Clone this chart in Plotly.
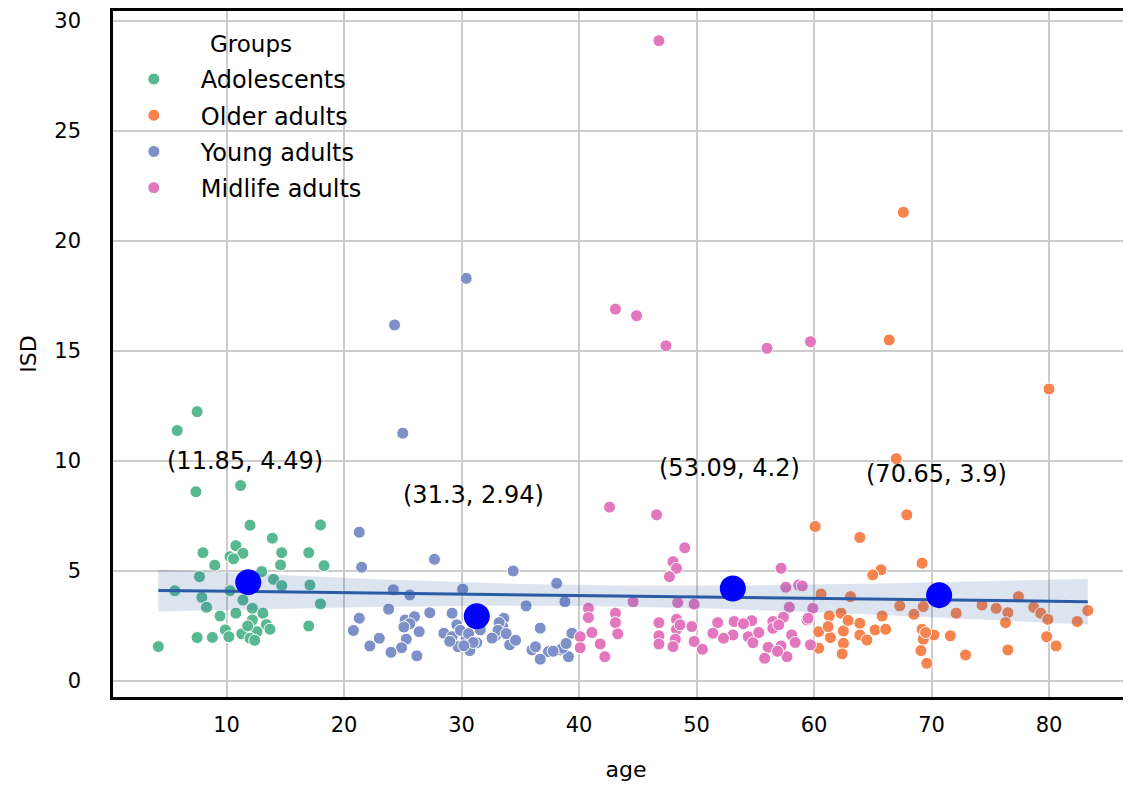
import numpy as np
import plotly.graph_objects as go

# ---------------- data ----------------
groups = ["Adolescents", "Older adults", "Young adults", "Midlife adults"]
colors = {"Adolescents": "#57b891", "Older adults": "#f7834f",
          "Young adults": "#7d90c8", "Midlife adults": "#e377be"}

adol_age = [7.5, 5.8, 7.4, 11.2, 12.0, 18.0, 13.9, 8.0, 10.8, 10.3, 11.4, 10.6,
            14.7, 17.0, 9.0, 14.6, 18.3, 13.0, 7.7, 14.0, 5.6, 17.1, 14.7, 10.3,
            7.9, 11.4, 8.3, 18.0, 12.2, 13.1, 9.45, 10.8, 12.2, 13.4, 9.9, 11.3,
            12.6, 17.0, 7.5, 8.8, 10.2, 12.0, 4.2, 12.4, 11.8, 13.7]
adol_isd = [12.24, 11.38, 8.6, 8.88, 7.08, 7.09, 6.49, 5.83, 6.15, 5.65, 5.8, 5.55,
            5.83, 5.83, 5.26, 5.27, 5.24, 4.97, 4.74, 4.62, 4.1, 4.36, 4.33, 4.1,
            3.8, 3.68, 3.35, 3.5, 3.3, 3.08, 2.95, 3.08, 2.77, 2.56, 2.32, 2.14,
            2.24, 2.5, 1.97, 1.98, 2.01, 1.94, 1.56, 1.85, 2.5, 2.35]

young_age = [30.4, 24.3, 25.0, 21.3, 27.7, 21.5, 34.4, 38.1, 24.2, 25.6, 30.1, 38.8,
             35.5, 23.8, 27.3, 29.2, 21.3, 25.2, 26.0, 33.6, 20.8, 26.4, 29.6, 31.6,
             33.5, 36.7, 28.5, 29.2, 30.4, 32.9, 23.0, 25.3, 31.3, 22.2, 24.9, 34.1,
             24.0, 26.2, 36.0, 37.4, 38.4, 36.7, 29.7, 30.7, 39.1, 39.4, 38.6,
             29.9, 30.6, 31.0, 30.2, 33.2, 33.1, 33.8, 32.6, 25.6, 25.1, 36.3,
             37.8, 38.9, 34.6, 29.0]
young_isd = [18.3, 16.18, 11.26, 6.76, 5.53, 5.17, 5.0, 4.44, 4.14, 3.91, 4.17, 3.6,
             3.41, 3.26, 3.1, 3.08, 2.85, 2.77, 2.92, 2.85, 2.29, 2.24, 2.55, 2.32,
             2.47, 2.4, 2.17, 2.01, 1.94, 2.05, 1.94, 1.9, 1.74, 1.59, 1.51, 1.64,
             1.3, 1.14, 1.41, 1.33, 1.41, 0.99, 1.56, 1.38, 1.1, 2.17, 1.49,
             2.3, 2.15, 1.75, 1.6, 2.65, 2.3, 2.15, 1.95, 2.6, 2.45, 1.55,
             1.35, 1.7, 1.85, 1.8]

mid_age = [46.8, 43.1, 44.9, 47.4, 56.0, 59.7, 42.6, 46.6, 49.0, 48.0, 48.3, 47.7,
           57.2, 57.6, 58.7, 44.6, 48.4, 49.8, 57.9, 40.8, 40.8, 43.1, 43.1, 46.8,
           48.3, 48.3, 51.8, 53.2, 54.7, 56.5, 57.4, 49.6, 41.1, 43.3, 40.1, 46.8,
           48.2, 51.4, 53.1, 56.5, 58.1, 54.4, 41.8, 46.8, 49.8, 52.3, 54.8, 40.1,
           48.0, 50.5, 56.1, 57.2, 42.2, 55.8, 57.7, 59.4, 59.0, 59.9, 59.5, 59.7,
           57.0, 55.3, 58.4, 54.0, 56.9, 48.6]
mid_isd = [29.1, 16.9, 16.6, 15.23, 15.12, 15.42, 7.9, 7.55, 6.05, 5.42, 5.12, 4.74,
           5.12, 4.26, 4.36, 3.6, 3.56, 3.49, 3.35, 3.3, 2.88, 3.08, 2.65, 2.65,
           2.8, 2.35, 2.65, 2.7, 2.74, 2.7, 2.9, 2.47, 2.2, 2.14, 2.01, 2.05,
           1.9, 2.17, 2.09, 2.39, 2.09, 2.01, 1.68, 1.68, 1.79, 1.94, 1.74, 1.51,
           1.56, 1.44, 1.53, 1.59, 1.1, 1.03, 1.1, 2.77, 4.32, 3.3, 2.85, 1.64,
           2.55, 2.2, 1.75, 2.6, 1.35, 2.55]

old_age = [67.6, 66.4, 80.0, 67.0, 67.9, 63.9, 60.1, 65.7, 65.0, 69.2, 60.6, 63.1,
           67.3, 69.3, 68.5, 65.8, 62.3, 61.3, 72.1, 74.3, 75.5, 76.5, 77.4, 78.7,
           79.3, 79.9, 83.3, 82.4, 76.3, 63.9, 60.4, 62.5, 65.2, 66.1, 63.9, 64.5,
           61.4, 62.5, 69.2, 70.2, 69.3, 71.6, 79.8, 60.4, 62.4, 69.1, 76.5, 80.6,
           72.9, 69.6, 61.2, 62.9, 69.5]
old_isd = [21.3, 15.5, 13.27, 10.1, 7.55, 6.52, 7.02, 5.05, 4.82, 5.35, 3.95, 3.83,
           3.41, 3.38, 3.03, 2.95, 3.08, 2.95, 3.08, 3.45, 3.3, 3.1, 3.83, 3.35,
           3.08, 2.8, 3.2, 2.7, 2.65, 2.62, 2.24, 2.27, 2.32, 2.35, 2.09, 1.86,
           1.97, 1.71, 2.35, 2.09, 1.9, 2.05, 2.01, 1.49, 1.23, 1.38, 1.41, 1.59,
           1.18, 0.8, 2.47, 2.75, 2.2]

group_ages = {"Adolescents": adol_age, "Older adults": old_age,
              "Young adults": young_age, "Midlife adults": mid_age}
group_isd = {"Adolescents": adol_isd, "Older adults": old_isd,
             "Young adults": young_isd, "Midlife adults": mid_isd}

mean_age = [11.85, 31.3, 53.09, 70.65]
mean_isd = [4.49, 2.94, 4.2, 3.9]
mean_labels = ["(11.85, 4.49)", "(31.3, 2.94)", "(53.09, 4.2)", "(70.65, 3.9)"]

x_ticks = [10, 20, 30, 40, 50, 60, 70, 80]
y_ticks = [0, 5, 10, 15, 20, 25, 30]

# ---------------- figure ----------------
FONT = "DejaVu Sans"
fig = go.Figure()

# regression with 95% CI over all points
all_x = np.array(adol_age + old_age + young_age + mid_age, dtype=float)
all_y = np.array(adol_isd + old_isd + young_isd + mid_isd, dtype=float)
n = len(all_x)
b1, b0 = np.polyfit(all_x, all_y, 1)
xs = np.linspace(all_x.min(), all_x.max(), 100)
yhat = b0 + b1 * xs
resid = all_y - (b0 + b1 * all_x)
s = np.sqrt(np.sum(resid ** 2) / (n - 2))
sxx = np.sum((all_x - all_x.mean()) ** 2)
se = s * np.sqrt(1.0 / n + (xs - all_x.mean()) ** 2 / sxx)
ci = 1.9 * se

for i, g in enumerate(groups):
    fig.add_trace(go.Scatter(
        x=group_ages[g], y=group_isd[g], mode="markers", name=g,
        legendgroup=g,
        marker=dict(size=12, color=colors[g], line=dict(color="white", width=1)),
    ))

fig.add_trace(go.Scatter(
    x=np.concatenate([xs, xs[::-1]]), y=np.concatenate([yhat + ci, (yhat - ci)[::-1]]),
    fill="toself", fillcolor="rgba(47,94,168,0.17)", line=dict(width=0),
    mode="lines", showlegend=False, hoverinfo="skip"))
fig.add_trace(go.Scatter(x=xs, y=yhat, mode="lines",
                         line=dict(color="#2c5ba6", width=3), showlegend=False))

fig.add_trace(go.Scatter(x=mean_age, y=mean_isd, mode="markers", showlegend=False,
                         marker=dict(size=26, color="#0000ff")))

for mx, my, lab in zip(mean_age, mean_isd, mean_labels):
    fig.add_annotation(x=mx, y=my + 5.5, text=lab, showarrow=False, xshift=-3,
                       xanchor="center", yanchor="middle",
                       font=dict(family=FONT, size=24, color="black"))

# legend title drawn as text
fig.add_annotation(x=0.0926, y=0.952, xref="paper", yref="paper", text="Groups",
                   showarrow=False, xanchor="left", yanchor="middle",
                   font=dict(family=FONT, size=23, color="black"))

fig.update_layout(
    width=1131, height=785,
    margin=dict(l=105, r=0, t=3, b=96),
    paper_bgcolor="white", plot_bgcolor="white",
    font=dict(family=FONT, size=21, color="black"),
    legend=dict(
        x=-0.006, y=0.933, xanchor="left", yanchor="top",
        bgcolor="rgba(255,255,255,0)", borderwidth=0,
        font=dict(family=FONT, size=24, color="black"),
        tracegroupgap=2, itemwidth=84, traceorder="grouped",
    ),
    xaxis=dict(
        range=[0.34, 87.66], tickvals=x_ticks, showgrid=True,
        gridcolor="#cccccc", gridwidth=1.5, zeroline=False,
        showline=True, linecolor="black", linewidth=2.5, mirror=True,
        ticks="", ticklabelstandoff=7,
        title=dict(text="age", standoff=26, font=dict(family=FONT, size=22)),
    ),
    yaxis=dict(
        range=[-0.73, 30.45], tickvals=y_ticks, showgrid=True,
        gridcolor="#cccccc", gridwidth=1.5, zeroline=False,
        showline=True, linecolor="black", linewidth=2.5, mirror=False,
        ticks="", ticklabelstandoff=25,
        title=dict(text="ISD", standoff=12, font=dict(family=FONT, size=22)),
    ),
    showlegend=True,
)

fig.write_html("out.html")
